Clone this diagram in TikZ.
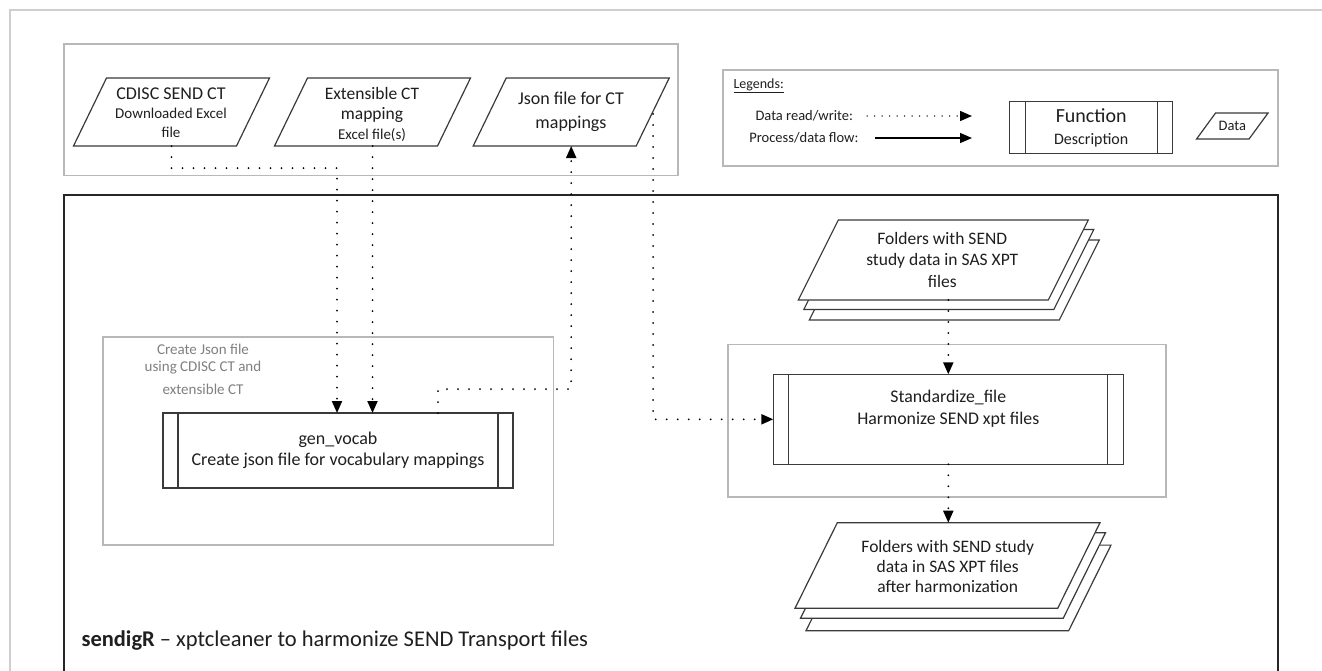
\documentclass[tikz,border=0pt]{standalone}
\usepackage{fontspec}
\setmainfont{Carlito}
\usetikzlibrary{arrows.meta}
\definecolor{ink}{HTML}{1F1F1F}
\definecolor{shpln}{HTML}{3A3A3A}
\definecolor{grp}{HTML}{B8B8B8}
\definecolor{outerc}{HTML}{CFCFCF}
\definecolor{lbl}{HTML}{808080}
\tikzset{
  grpbox/.style={draw=grp, line width=1.4pt},
  outerln/.style={draw=outerc, line width=1.4pt},
  mainfr/.style={draw=black!85, line width=1.9pt},
  shp/.style={draw=shpln, line width=1.2pt, fill=white},
  pbox/.style={inner sep=0pt, outer sep=0pt, draw=none},
  dflow/.style={draw=black, line width=2pt, line cap=round, dash pattern=on 0pt off 11pt,
     -{Triangle[length=12pt,width=10pt,fill=black]}},
  ldflow/.style={draw=black, line width=1.5pt, line cap=round, dash pattern=on 0pt off 7.5pt,
     -{Triangle[length=12pt,width=10pt,fill=black]}},
  pflow/.style={draw=black, line width=1.3pt, -{Triangle[length=12pt,width=10pt,fill=black]}},
  small/.style={font=\fontsize{14.5}{17}\selectfont},
}
\newcommand\parapath[4]{%
  \draw[shp] ([xshift=#2+#3, yshift=#4]#1.north west) -- ([xshift=#3, yshift=#4]#1.north east)
    -- ([xshift=-#2+#3, yshift=#4]#1.south east) -- ([xshift=#3, yshift=#4]#1.south west) -- cycle;}
\newcommand\funcbars[2]{%
  \draw[shp] (#1.north west) rectangle (#1.south east);
  \draw[draw=shpln, line width=1.2pt] ([xshift=#2]#1.north west) -- ([xshift=#2]#1.south west);
  \draw[draw=shpln, line width=1.2pt] ([xshift=-#2]#1.north east) -- ([xshift=-#2]#1.south east);}
\begin{document}
\begin{tikzpicture}[x=1pt, y=-1pt, font=\fontsize{17.5}{20.5}\selectfont, text=ink]
\useasboundingbox (0,0) rectangle (1322,670);
\fill[white] (0,0) rectangle (1322,670);

% frames
\draw[outerln] (1340,10) -- (10,10) -- (10,690);
\draw[grpbox] (64,44) rectangle (678,175.5);
\draw[grpbox] (723,70) rectangle (1278,166);
\draw[mainfr] (64,690) -- (64,195) -- (1278,195) -- (1278,690);
\draw[grpbox] (103,337) rectangle (553.5,545);
\draw[grpbox] (728,344.5) rectangle (1166,497);

% top data inputs
\node[pbox, minimum width=196pt, minimum height=68pt] (cdisc) at (171.5,112) {};
\parapath{cdisc}{33pt}{0pt}{0pt}
\node[align=center, font=\fontsize{18}{19}\selectfont] (cdisc-t) at (171,112.5)
  {CDISC SEND CT\\{\fontsize{15}{17}\selectfont Downloaded Excel}\\{\fontsize{15}{17}\selectfont file}};

\node[pbox, minimum width=196pt, minimum height=68pt] (ext) at (372.5,112) {};
\parapath{ext}{33pt}{0pt}{0pt}
\node[align=center, font=\fontsize{17.5}{20}\selectfont] (ext-t) at (372,114)
  {Extensible CT\\mapping\\{\fontsize{15}{17}\selectfont Excel file(s)}};

\node[pbox, minimum width=196pt, minimum height=68pt] (json) at (571.2,112) {};
\parapath{json}{33pt}{0pt}{0pt}
\node[align=center, font=\fontsize{18}{21}\selectfont] (json-t) at (571,112) {Json file for CT\\[3pt]mappings};

% legend
\node[anchor=west, font=\fontsize{14}{16}\selectfont] (legtitle) at (730,86) {\underline{Legends:}};
\node[anchor=east, small] (lg1) at (856.5,116) {Data read/write:};
\node[anchor=east, small] (lg2) at (862,138) {Process/data flow:};
\coordinate (lg1a) at (867,116);
\coordinate (lg1b) at (972,116);
\coordinate (lg2a) at (875,138);
\coordinate (lg2b) at (972,138);
\draw[ldflow] (lg1a) -- (lg1b);
\draw[pflow] (lg2a) -- (lg2b);
\node[pbox, minimum width=163pt, minimum height=52pt] (func) at (1091.2,127.5) {};
\funcbars{func}{15.5pt}
\node[align=center, font=\fontsize{20}{22}\selectfont] (func-t) at (1091.2,127.5)
  {Function\\{\fontsize{16}{17}\selectfont Description}};
\node[pbox, minimum width=71.5pt, minimum height=26pt] (datal) at (1232.3,126) {};
\parapath{datal}{19pt}{0pt}{0pt}
\node[small] (datal-t) at (1232.3,126) {Data};

% left group
\node[align=center, font=\fontsize{15}{17}\selectfont, text=lbl] (glabel) at (203,369)
  {Create Json file\\using CDISC CT and\\[6pt]extensible CT};
\node[pbox, minimum width=350pt, minimum height=75pt] (gv) at (338,450.5) {};
\funcbars{gv}{15pt}
\node[align=center, font=\fontsize{18}{20.7}\selectfont] (gv-t) at (338,450.5) {gen\_vocab\\Create json file for vocabulary mappings};

% right side: input folders
\node[pbox, minimum width=290pt, minimum height=80pt] (inf) at (943.3,260) {};
\parapath{inf}{40pt}{11pt}{-20pt}
\parapath{inf}{40pt}{5.5pt}{-9.5pt}
\parapath{inf}{40pt}{0pt}{0pt}
\node[align=center, font=\fontsize{17.5}{21.3}\selectfont] (inf-t) at (942.3,259.7)
  {Folders with SEND\\study data in SAS XPT\\files};

% standardize
\node[pbox, minimum width=350pt, minimum height=90pt] (sf) at (948.3,419.3) {};
\funcbars{sf}{15.5pt}
\node[align=center, font=\fontsize{17.8}{22}\selectfont] (sf-t) at (948.3,408.3)
  {Standardize\_file\\Harmonize SEND xpt files};

% output folders
\node[pbox, minimum width=305pt, minimum height=85.6pt] (outf) at (947.5,565.5) {};
\parapath{outf}{42.3pt}{11pt}{-22.4pt}
\parapath{outf}{42.3pt}{5.5pt}{-10pt}
\parapath{outf}{42.3pt}{0pt}{0pt}
\node[align=center, font=\fontsize{17.5}{20.3}\selectfont] (outf-t) at (947.7,566.3)
  {Folders with SEND study\\data in SAS XPT files\\after harmonization};

% connectors
\coordinate (c-turn) at (337,168);
\draw[dflow] (cdisc.south) |- (c-turn) -- (c-turn |- gv.north);
\draw[dflow] (ext.south) -- (ext.south |- gv.north);
\coordinate (j-turn) at (438,389);
\draw[dflow] (j-turn |- gv.north) -- (j-turn) -| (json.south);
\coordinate (j-out) at (653,114);
\draw[dflow] (j-out) |- (sf.west);
\draw[dflow] (sf.north |- inf.south) -- (sf.north);
\draw[dflow] (sf.south) -- (sf.south |- outf.north);

% title
\node[anchor=west, font=\fontsize{22.5}{25}\selectfont] (title) at (78,641)
  {\textbf{sendigR} \textendash{} xptcleaner to harmonize SEND Transport files};
\end{tikzpicture}
\end{document}
